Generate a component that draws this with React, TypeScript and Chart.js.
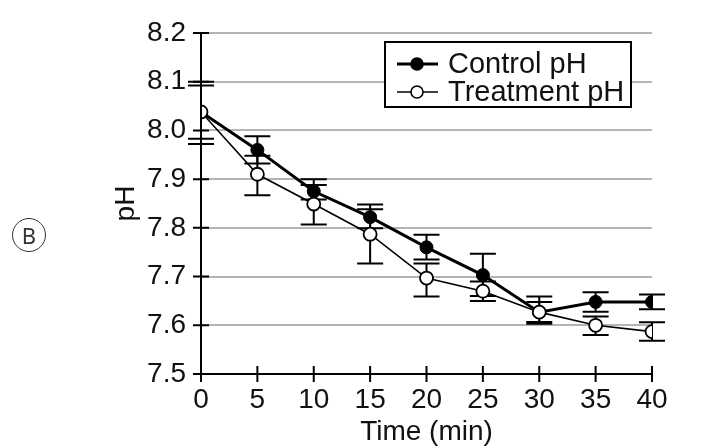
import React, { useEffect, useRef } from "react";
import { Chart, registerables } from "chart.js";

Chart.register(...registerables);

const timeMin = [0, 5, 10, 15, 20, 25, 30, 35, 40];
const controlPH = [8.038, 7.96, 7.875, 7.822, 7.76, 7.703, 7.627, 7.648, 7.648];
const controlHi = [8.1, 7.988, 7.9, 7.848, 7.786, 7.747, 7.659, 7.668, 7.663];
const controlLo = [7.972, 7.932, 7.858, 7.799, 7.735, 7.66, 7.603, 7.628, 7.633];
const treatmentPH = [8.038, 7.91, 7.849, 7.787, 7.697, 7.67, 7.627, 7.6, 7.587];
const treatmentHi = [8.092, 7.948, 7.888, 7.838, 7.727, 7.69, 7.648, 7.618, 7.606];
const treatmentLo = [7.983, 7.867, 7.807, 7.727, 7.659, 7.65, 7.607, 7.58, 7.568];
const yTicks = [7.5, 7.6, 7.7, 7.8, 7.9, 8.0, 8.1, 8.2];
const legendLabels = ["Control pH", "Treatment pH"];

const FONT = "'Liberation Sans', Arial, Helvetica, sans-serif";

const errorBarPlugin = {
  id: "errorBars",
  beforeDatasetsDraw(chart: any) {
    const ctx = chart.ctx;
    const xs = chart.scales.x;
    const ys = chart.scales.y;
    ctx.save();
    ctx.strokeStyle = "#000";
    ctx.lineWidth = 2;
    const sets = [
      [controlHi, controlLo],
      [treatmentHi, treatmentLo],
    ];
    for (const [hi, lo] of sets) {
      timeMin.forEach((t, i) => {
        const x = xs.getPixelForValue(t);
        const yh = ys.getPixelForValue(hi[i]);
        const yl = ys.getPixelForValue(lo[i]);
        ctx.beginPath();
        ctx.moveTo(x, yh);
        ctx.lineTo(x, yl);
        ctx.moveTo(x - 13, yh);
        ctx.lineTo(x + 13, yh);
        ctx.moveTo(x - 13, yl);
        ctx.lineTo(x + 13, yl);
        ctx.stroke();
      });
    }
    ctx.restore();
  },
};

const axesPlugin = {
  id: "customAxes",
  afterDraw(chart: any) {
    const ctx = chart.ctx;
    const xs = chart.scales.x;
    const ys = chart.scales.y;
    const { left, right, top, bottom } = chart.chartArea;
    ctx.save();
    ctx.strokeStyle = "#000";
    ctx.lineWidth = 2;
    ctx.beginPath();
    ctx.moveTo(left, top);
    ctx.lineTo(left, bottom);
    ctx.moveTo(left - 8, bottom);
    ctx.lineTo(right, bottom);
    yTicks.forEach((v) => {
      const y = ys.getPixelForValue(v);
      ctx.moveTo(left - 8, y);
      ctx.lineTo(left + 8, y);
    });
    timeMin.forEach((t) => {
      const x = xs.getPixelForValue(t);
      ctx.moveTo(x, bottom - 8);
      ctx.lineTo(x, bottom + 8);
    });
    ctx.stroke();

    // legend
    const bx = 385, by = 42, bw = 246, bh = 65;
    ctx.fillStyle = "#fff";
    ctx.fillRect(bx, by, bw, bh);
    ctx.lineWidth = 2;
    ctx.strokeRect(bx, by, bw, bh);
    const rows = [
      { y: 64, lw: 3, fill: "#000" },
      { y: 92, lw: 1.6, fill: "#fff" },
    ];
    rows.forEach((r, i) => {
      ctx.beginPath();
      ctx.lineWidth = r.lw;
      ctx.moveTo(397, r.y);
      ctx.lineTo(438, r.y);
      ctx.stroke();
      ctx.beginPath();
      ctx.arc(417, r.y, 6, 0, Math.PI * 2);
      ctx.fillStyle = r.fill;
      ctx.fill();
      ctx.lineWidth = 1.6;
      ctx.stroke();
      ctx.fillStyle = "#111";
      ctx.font = `29px ${FONT}`;
      ctx.textBaseline = "middle";
      ctx.textAlign = "left";
      ctx.fillText(legendLabels[i], 448, r.y + 1);
    });
    ctx.restore();
  },
};

export default function App() {
  const ref = useRef<HTMLCanvasElement>(null);
  useEffect(() => {
    document.body.style.margin = "0";
    const chart = new Chart(ref.current as HTMLCanvasElement, {
      type: "line",
      data: {
        datasets: [
          {
            label: legendLabels[0],
            data: timeMin.map((t, i) => ({ x: t, y: controlPH[i] })),
            borderColor: "#000",
            backgroundColor: "#000",
            borderWidth: 3,
            pointRadius: 6.5,
            pointBorderWidth: 1,
            pointBackgroundColor: "#000",
            pointBorderColor: "#000",
            order: 1,
          },
          {
            label: legendLabels[1],
            data: timeMin.map((t, i) => ({ x: t, y: treatmentPH[i] })),
            borderColor: "#000",
            backgroundColor: "#fff",
            borderWidth: 1.6,
            pointRadius: 6.5,
            pointBorderWidth: 1.8,
            pointBackgroundColor: "#fff",
            pointBorderColor: "#000",
            order: 0,
          },
        ],
      },
      options: {
        animation: false,
        responsive: false,
        devicePixelRatio: 1,
        layout: { padding: { left: 100, top: 33, right: 67, bottom: 0 } },
        plugins: { legend: { display: false }, tooltip: { enabled: false } },
        scales: {
          x: {
            type: "linear",
            min: 0,
            max: 40,
            afterFit: (s: any) => {
              s.height = 72;
            },
            afterBuildTicks: (s: any) => {
              s.ticks = timeMin.map((v) => ({ value: v }));
            },
            grid: { display: false, drawTicks: false },
            border: { display: false },
            ticks: {
              color: "#111",
              padding: 12,
              font: { family: FONT, size: 28, lineHeight: 1 },
              maxRotation: 0,
            },
            title: {
              display: true,
              text: "Time (min)",
              color: "#111",
              padding: 0,
              font: { family: FONT, size: 28, lineHeight: 1 },
            },
          },
          y: {
            type: "linear",
            min: 7.5,
            max: 8.2,
            afterFit: (s: any) => {
              s.width = 101;
            },
            afterBuildTicks: (s: any) => {
              s.ticks = yTicks.map((v) => ({ value: v }));
            },
            grid: {
              drawTicks: false,
              lineWidth: 2,
              color: (c: any) => (c.tick && c.tick.value <= 7.5 ? "rgba(0,0,0,0)" : "#b4b4b4"),
            },
            border: { display: false },
            ticks: {
              color: "#111",
              padding: 15,
              font: { family: FONT, size: 28, lineHeight: 1 },
              callback: (v: any) => Number(v).toFixed(1),
            },
            title: {
              display: true,
              text: "pH",
              color: "#111",
              padding: { top: 12, bottom: 0 },
              font: { family: FONT, size: 28, lineHeight: 1 },
            },
          },
        },
      },
      plugins: [errorBarPlugin, axesPlugin],
    });
    return () => chart.destroy();
  }, []);

  return (
    <div style={{ position: "absolute", left: 0, top: 0, width: 719, height: 446, background: "#fff" }}>
      <canvas ref={ref} width={719} height={446} style={{ width: 719, height: 446, display: "block" }} />
      <div
        style={{
          position: "absolute",
          left: 12,
          top: 218,
          width: 32,
          height: 32,
          borderRadius: "50%",
          border: "1px solid #333",
          display: "flex",
          alignItems: "center",
          justifyContent: "center",
          fontFamily: "'Noto Sans', Roboto, sans-serif",
          fontSize: 22,
          color: "#333",
          lineHeight: 1,
        }}
      >
        B
      </div>
    </div>
  );
}
